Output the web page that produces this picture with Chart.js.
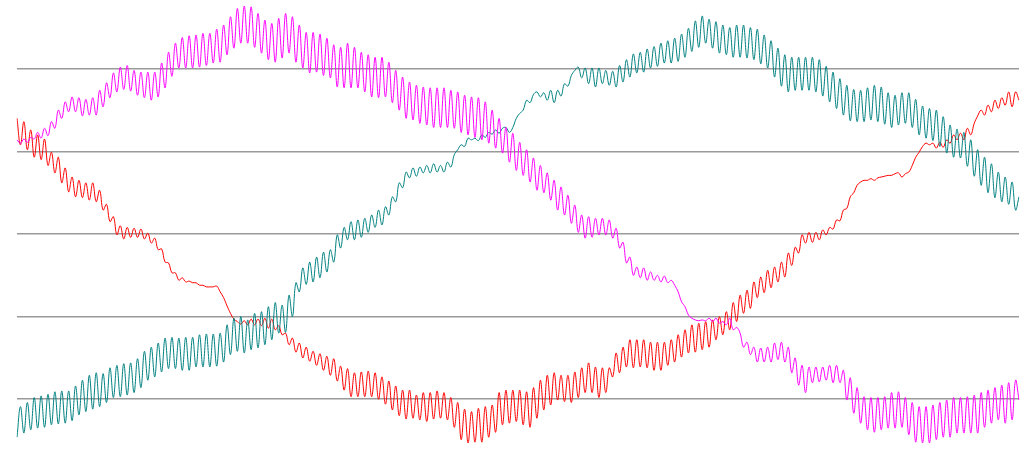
<!DOCTYPE html>
<html>
<head>
<meta charset="utf-8">
<script src="https://cdn.jsdelivr.net/npm/chart.js@4/dist/chart.umd.min.js"></script>
<style>
  html, body { margin: 0; padding: 0; background: #fff; }
  #wrap { width: 1020px; height: 451px; position: relative; }
</style>
</head>
<body>
<div id="wrap"><canvas id="phase-chart"></canvas></div>
<script>
// samples along the time axis (one per half ripple cycle)
const sampleCount = 292;
const samples = Array.from({ length: sampleCount }, (_, i) => i);

// tick values of the horizontal grid lines
const gridTicks = [-200, -100, 0, 100, 200];

const tealValues = [
    -246,-209,-241,-204,-237,-198,-235,-196,-234,-194,-231,-191,-230,-190,-229,-190,-226,-184,-219,-177,
    -215,-171,-212,-168,-209,-169,-204,-162,-198,-159,-197,-157,-195,-156,-192,-151,-186,-142,-177,-137,
    -173,-132,-167,-126,-163,-125,-163,-126,-165,-125,-165,-125,-161,-122,-161,-121,-161,
    -121,-160,-120,-155,-110,-146,-102,-142,-100,-144,-104,-140,-96,-138,-94,-134,-88,-128,-83,-120,
    -86,-119,-74,-100,-59,-70,-41,-61,-34,-58,-28,-53,-22,-46,-19,-34,-1,-17,8,-7,
    15,-7,17,-4,19,2,23,8,29,11,33,23,45,39,62,56,75,68,
    80,70,81,74,83,74,85,75,83,75,87,81,96,102,108,106,116,114,116,113,
    120,117,123,121,126,122,128,129,123,129,140,146,150,162,159,169,172,166,171,162,
    174,159,174,167,182,179,192,198,202,189,201,182,201,178,201,182,198,180,
    197,178,204,184,211,190,218,195,220,196,224,201,227,203,231,207,234,207,237,209,
    242,214,249,221,258,226,264,231,260,225,257,219,253,217,250,214,253,214,253,213,
    250,211,248,206,241,201,234,190,225,179,217,172,214,174,214,174,214,174,
    214,172,211,167,203,160,196,152,188,144,180,137,175,136,174,136,177,138,180,136,
    178,133,171,129,168,132,171,134,171,129,163,120,155,116,152,113,150,106,142,98,
    132,93,127,92,123,82,114,70,102,59,93,50,85,44,75,39,69,36,63,29,45
];

const redValues = [
    140,108,136,102,126,93,120,90,115,83,99,74,93,62,80,51,69,45,65,44,
    62,41,62,39,53,29,36,15,21,-1,10,-6,8,-4,7,-4,6,-6,1,-11,
    -5,-19,-18,-34,-35,-47,-47,-56,-53,-58,-57,-59,-59,-62,-62,-64,-64,
    -64,-63,-70,-77,-87,-96,-103,-106,-109,-105,-110,-103,-110,-103,-111,-102,-114,-103,-116,-111,
    -122,-120,-134,-126,-143,-132,-150,-137,-154,-142,-159,-145,-165,-148,-171,-151,-178,-160,-189,-163,
    -197,-168,-197,-167,-197,-166,-197,-168,-200,-173,-206,-178,-213,-184,-220,-189,-224,-189,
    -223,-195,-225,-192,-227,-192,-224,-190,-223,-192,-225,-198,-234,-204,-249,-212,-253,-215,-252,-211,
    -252,-209,-246,-207,-240,-192,-231,-189,-229,-189,-227,-189,-231,-191,-234,-186,-223,-177,-213,-171,
    -207,-168,-201,-171,-203,-171,-204,-167,-198,-162,-192,-156,-192,-161,-198,-162,-192,-162,
    -173,-144,-168,-137,-161,-128,-162,-128,-161,-128,-162,-131,-165,-131,-165,-131,-159,-128,-155,-122,
    -149,-116,-144,-110,-143,-108,-140,-106,-137,-104,-128,-100,-122,-94,-116,-83,-106,-74,-96,-68,
    -90,-58,-77,-52,-71,-44,-65,-40,-58,-34,-52,-23,-38,-16,-23,-1,-11,2,
    -10,2,-7,5,-1,8,6,17,16,29,31,45,50,59,63,65,65,67,65,68,
    69,70,71,71,73,74,69,73,75,83,93,99,106,110,108,110,104,111,105,114,
    110,120,114,122,114,128,120,134,143,150,144,156,148,162,152,165,156,172,154,172,162
];

const magentaValues = [
    114,110,115,111,117,115,123,116,128,119,136,128,150,140,160,148,166,148,165,143,
    163,144,165,144,174,154,183,165,195,172,202,175,204,173,198,168,196,165,196,162,
    196,166,207,177,220,191,231,201,238,201,240,201,241,202,243,204,243,
    207,248,208,253,217,263,225,273,231,276,231,275,226,267,219,259,211,255,208,261,
    213,267,219,263,208,253,201,244,195,244,196,242,192,237,189,229,178,226,177,231,
    177,226,177,220,172,217,166,214,165,214,166,208,159,198,150,190,140,184,
    138,180,134,178,132,177,129,177,129,177,129,174,128,172,123,168,120,166,117,165,
    114,160,110,150,104,140,98,129,87,122,77,111,71,102,63,92,53,83,50,74,
    41,65,29,57,23,47,13,35,2,23,-5,21,-4,19,-1,19,-1,17,
    -5,7,-17,-10,-35,-28,-50,-40,-53,-41,-56,-46,-56,-50,-58,-51,-59,-56,-62,-70,
    -82,-88,-98,-102,-104,-105,-104,-105,-102,-106,-102,-108,-106,-110,-102,-116,-113,-120,-137,-131,
    -146,-137,-155,-138,-155,-137,-155,-132,-152,-131,-155,-137,-168,-150,-183,-159,-192,-161,
    -180,-161,-179,-161,-177,-159,-180,-159,-180,-165,-201,-174,-217,-186,-229,-197,-237,-198,-240,-198,
    -237,-197,-235,-192,-235,-191,-234,-198,-243,-204,-252,-209,-253,-209,-253,-207,-249,-204,-246,-201,
    -246,-198,-241,-198,-241,-197,-241,-195,-241,-192,-234,-189,-229,-186,-225,-183,-229,-180,-225,-177,-201
];

const data = {
    labels: samples,
    datasets: [
        { label: 'magenta', data: magentaValues, borderColor: 'rgb(255,0,255)', order: 0 },
        { label: 'teal', data: tealValues, borderColor: 'rgb(0,128,128)', order: 1 },
        { label: 'red', data: redValues, borderColor: 'rgb(255,0,0)', order: 2 }
    ].map(ds => Object.assign(ds, {
        borderWidth: 1,
        pointRadius: 0,
        tension: 0.4,
        fill: false
    }))
};

const config = {
    type: 'line',
    data,
    options: {
        responsive: true,
        maintainAspectRatio: false,
        animation: false,
        layout: { padding: { left: 17, right: 1, top: 0, bottom: 0 } },
        plugins: {
            legend: { display: false },
            tooltip: { enabled: false }
        },
        scales: {
            x: { display: false },
            y: {
                min: -262.7,
                max: 283.3,
                ticks: { display: false, stepSize: 100 },
                border: { display: false },
                grid: {
                    drawTicks: false,
                    lineWidth: 1.6,
                    color: ctx => gridTicks.includes(ctx.tick && ctx.tick.value) ? '#9a9a9a' : 'rgba(0,0,0,0)'
                }
            }
        }
    }
};

const phaseChart = new Chart(document.querySelector('#phase-chart'), config);
</script>
</body>
</html>
